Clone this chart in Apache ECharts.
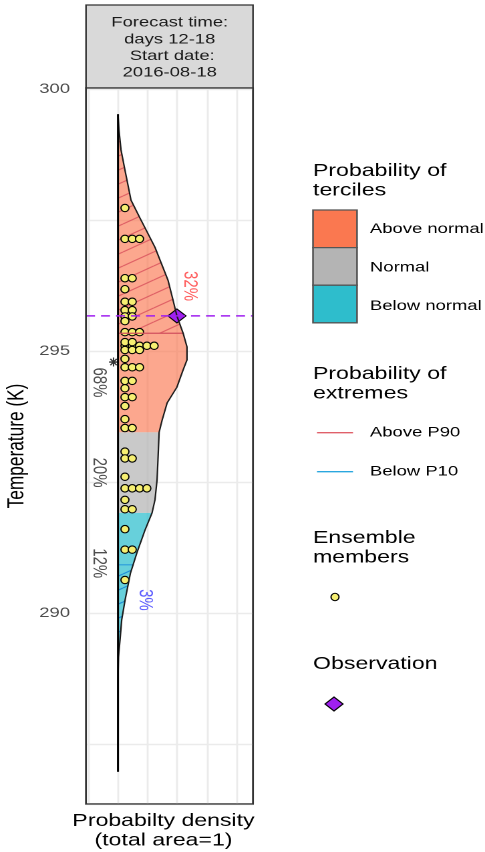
<!DOCTYPE html>
<html><head><meta charset="utf-8">
<script src="https://cdn.jsdelivr.net/npm/echarts@6/dist/echarts.min.js"></script>
<style>
html,body{margin:0;padding:0;background:#fff;overflow:hidden;width:485px;height:852px}
#wrap{width:485px;height:852px;overflow:hidden;position:relative}
#chart{position:absolute;left:0;top:0;width:363px;height:852px;transform:scaleX(1.33609);transform-origin:0 0}
</style></head>
<body><div id="wrap"><div id="chart"></div></div>
<script>
// ---------------- data ----------------
const densityTemps  = [299.52, 299.22, 298.84, 298.45, 298.07, 297.88, 297.50, 296.98, 296.35, 295.97, 295.67, 295.34, 295.08, 294.83, 294.64, 294.31, 294.01, 293.68, 293.45, 292.92, 292.54, 292.16, 291.91, 291.58, 291.15, 290.76, 290.25, 289.87, 289.48, 289.16, 288.72, 286.97];
const densityValues = [0, 0.0034, 0.0101, 0.0236, 0.0372, 0.0439, 0.0777, 0.125, 0.169, 0.186, 0.199, 0.220, 0.233, 0.233, 0.220, 0.199, 0.166, 0.149, 0.139, 0.135, 0.132, 0.125, 0.115, 0.091, 0.064, 0.042, 0.024, 0.0125, 0.0068, 0.0017, 0, 0];
const tercileBounds = [291.91, 293.45];          // lower / upper tercile limits (K)
const extremeBounds = [290.92, 295.34];          // P10 / P90 (K)
const tercileLabels = ['12%', '20%', '68%'];
const tercileLabelTemps = [290.95, 292.68, 294.40];
const extremeLabels = ['3%', '32%'];
const extremeLabelTemps = [290.25, 296.24];
const memberTemps  = [297.73, 297.14, 296.39, 296.18, 295.94, 295.78, 295.66, 295.57, 295.36, 295.10, 295.17, 295.02, 294.85, 294.69, 294.43, 294.29, 294.12, 293.95, 293.70, 293.53, 293.08, 292.95, 292.60, 292.38, 292.16, 291.98, 291.60, 291.21, 290.63];
const memberCounts = [1, 3, 2, 1, 2, 2, 2, 1, 3, 5, 2, 3, 1, 3, 2, 1, 2, 1, 1, 2, 1, 2, 1, 4, 1, 2, 1, 2, 1];
const observation = 295.67;
const ensembleMean = 294.79;
const yTickLabels = ['290', '295', '300'];
const headerLines = ['Forecast time:', 'days 12-18', ' Start date:', '2016-08-18'];
const legendTerciles = ['Above normal', 'Normal', 'Below normal'];
const legendExtremes = ['Above P90', 'Below P10'];

// ---------------- layout / style ----------------
const S = 485 / 363;                 // horizontal stretch of the reference
const ux = p => p / S;               // reference px -> chart px (x)
const X_MIN = -0.108, X_MAX = 0.456, Y_MIN = 286.355, Y_MAX = 300.02;
const FONT = '"Liberation Sans", Arial, Helvetica, sans-serif';
const labelPlacement = { tercileX: -0.064, extremeX: [0.091, 0.243], meanX: -0.015 };
const dotStep = 0.0247;
const tercileFill = ['rgba(45,190,205,0.72)', 'rgba(180,180,180,0.72)', 'rgba(250,118,78,0.64)'];
const legendFill = ['#FA7850', '#B4B4B4', '#2EBDCC'];
const extremeColors = ['#3333FF', '#FF3636'];

const densAsc = densityTemps.map((t, i) => ({ t, d: densityValues[i] })).sort((a, b) => a.t - b.t);
const tMin = densAsc[0].t, tMax = densAsc[densAsc.length - 1].t;
function densityAt(t) {
  if (t <= densAsc[0].t) return densAsc[0].d;
  for (let i = 1; i < densAsc.length; i++) {
    if (t <= densAsc[i].t) {
      const a = densAsc[i - 1], b = densAsc[i];
      return a.d + (b.d - a.d) * (t - a.t) / (b.t - a.t);
    }
  }
  return densAsc[densAsc.length - 1].d;
}
function regionShape(lo, hi, api) {
  const pts = [api.coord([0, lo]), api.coord([densityAt(lo), lo])];
  densAsc.forEach(p => { if (p.t > lo && p.t < hi) pts.push(api.coord([p.d, p.t])); });
  pts.push(api.coord([densityAt(hi), hi]), api.coord([0, hi]));
  return pts;
}
function hatchPattern(color) {
  const k = 2, W = 23 * k, H = 14 * k;
  const c = document.createElement('canvas'); c.width = W; c.height = H;
  const g = c.getContext('2d'); g.strokeStyle = color; g.lineWidth = 1.1 * k;
  for (let j = -1; j <= 1; j++) { g.beginPath(); g.moveTo(0, (j + 1) * H); g.lineTo(W, j * H); g.stroke(); }
  return { image: c, repeat: 'repeat', scaleX: 1 / k, scaleY: 1 / k };
}
const hatchPatterns = [hatchPattern('rgba(20,130,215,0.85)'), hatchPattern('rgba(200,40,70,0.55)')];

const dots = [];
memberTemps.forEach((t, i) => { for (let j = 0; j < memberCounts[i]; j++) dots.push([dotStep * (j + 0.95), t]); });

const asteriskPath = 'path://M8.5,0L11.5,0L11.5,20L8.5,20Z M0,8.5L20,8.5L20,11.5L0,11.5Z M1.94,4.06L4.06,1.94L18.06,15.94L15.94,18.06Z M15.94,1.94L18.06,4.06L4.06,18.06L1.94,15.94Z';

const titleFont = '17.3px ' + FONT, smallFont = '13.8px ' + FONT;
const graphic = [
  { type: 'rect', shape: { x: ux(86), y: 5, width: ux(167), height: 83 }, style: { fill: '#D9D9D9', stroke: '#333', lineWidth: 1.2 } },
  { type: 'rect', z: 100, shape: { x: ux(86), y: 88, width: ux(167), height: 716 }, style: { fill: null, stroke: '#333', lineWidth: 1.3 } },
  { type: 'text', x: ux(169.7), y: 14.4, style: { text: headerLines.join('\n'), font: smallFont, fill: '#1A1A1A', align: 'center', verticalAlign: 'top', lineHeight: 16.7 } },
  { type: 'text', x: ux(17), y: 446, rotation: Math.PI / 2, style: { text: 'Temperature (K)', font: titleFont, fill: '#000', align: 'center', verticalAlign: 'middle' } },
  { type: 'text', x: ux(163.5), y: 811.25, style: { text: 'Probabilty density\n(total area=1)', font: titleFont, fill: '#000', align: 'center', verticalAlign: 'top', lineHeight: 19.5 } },
  { type: 'text', x: ux(313), y: 161.3, style: { text: 'Probability of\nterciles', font: titleFont, fill: '#000', verticalAlign: 'top', lineHeight: 19.5 } },
  { type: 'text', x: ux(313), y: 364.3, style: { text: 'Probability of\nextremes', font: titleFont, fill: '#000', verticalAlign: 'top', lineHeight: 19.5 } },
  { type: 'text', x: ux(313), y: 528.5, style: { text: 'Ensemble\nmembers', font: titleFont, fill: '#000', verticalAlign: 'top', lineHeight: 19.5 } },
  { type: 'text', x: ux(313), y: 654.5, style: { text: 'Observation', font: titleFont, fill: '#000', verticalAlign: 'top', lineHeight: 19.5 } },
  { type: 'ellipse', shape: { cx: ux(335), cy: 597, rx: ux(4), ry: 3.7 }, style: { fill: '#F6EF72', stroke: '#000', lineWidth: 1 } },
  { type: 'polygon', shape: { points: [[ux(334), 697], [ux(343), 704], [ux(334), 711], [ux(325), 704]] }, style: { fill: '#A020F0', stroke: '#000', lineWidth: 1 } }
];
legendTerciles.forEach((name, i) => {
  graphic.push({ type: 'rect', shape: { x: ux(313), y: 210 + i * 37.6, width: ux(44), height: 37.6 }, style: { fill: legendFill[i], stroke: '#555', lineWidth: 1.3 } });
  graphic.push({ type: 'text', x: ux(370), y: 229 + i * 38.5, style: { text: name, font: smallFont, fill: '#000', verticalAlign: 'middle' } });
});
legendExtremes.forEach((name, i) => {
  const y = 432.7 + i * 39;
  graphic.push({ type: 'line', shape: { x1: ux(317), y1: y, x2: ux(353), y2: y }, style: { stroke: i === 0 ? '#E0606A' : '#2AA7DF', lineWidth: 1.3 } });
  graphic.push({ type: 'text', x: ux(370), y: y, style: { text: name, font: smallFont, fill: '#000', verticalAlign: 'middle' } });
});

const series = [
  { type: 'custom', coordinateSystem: 'cartesian2d', silent: true, encode: { x: 0, y: [1, 2] },
    data: [[0, tMin, tercileBounds[0], 0], [0, tercileBounds[0], tercileBounds[1], 1], [0, tercileBounds[1], tMax, 2]],
    renderItem: (params, api) => ({ type: 'polygon', shape: { points: regionShape(api.value(1), api.value(2), api) }, style: { fill: tercileFill[api.value(3)], stroke: null } }) },
  { type: 'custom', coordinateSystem: 'cartesian2d', silent: true, encode: { x: 0, y: [1, 2] },
    data: [[0, tMin, extremeBounds[0], 0], [0, extremeBounds[1], tMax, 1]],
    renderItem: (params, api) => ({ type: 'polygon', shape: { points: regionShape(api.value(1), api.value(2), api) }, style: { fill: hatchPatterns[api.value(3)], stroke: null } }) },
  { type: 'line', symbol: 'none', silent: true, lineStyle: { color: '#2A9BDB', width: 1.2 }, data: [[0, extremeBounds[0]], [densityAt(extremeBounds[0]), extremeBounds[0]]] },
  { type: 'line', symbol: 'none', silent: true, lineStyle: { color: '#D2505E', width: 1.3 }, data: [[0, extremeBounds[1]], [densityAt(extremeBounds[1]), extremeBounds[1]]] },
  { type: 'line', symbol: 'none', silent: true, lineStyle: { color: '#1A1A1A', width: 1.1 }, data: densAsc.map(p => [p.d, p.t]) },
  { type: 'line', symbol: 'none', silent: true, lineStyle: { color: '#000', width: 1.5 }, data: [[0, tMin], [0, tMax]] },
  { type: 'line', symbol: 'none', silent: true, lineStyle: { color: '#A020F0', width: 1.5, type: [ux(9), ux(6)] }, data: [[X_MIN, observation], [X_MAX, observation]] },
  { type: 'scatter', silent: true, symbol: 'circle', symbolSize: [ux(8), 7.4], itemStyle: { color: '#F6EF72', borderColor: '#000', borderWidth: 1, opacity: 1 }, data: dots },
  { type: 'scatter', silent: true, symbol: asteriskPath, symbolSize: [ux(9), 9], itemStyle: { color: '#000' }, data: [[labelPlacement.meanX, ensembleMean]] },
  { type: 'scatter', silent: true, symbol: 'diamond', symbolSize: [ux(18), 14], itemStyle: { color: '#A020F0', borderColor: '#000', borderWidth: 1, opacity: 1 }, data: [[densityAt(observation), observation]] },
  { type: 'scatter', silent: true, symbolSize: 0,
    label: { show: true, position: 'inside', rotate: -90, fontSize: 15, fontFamily: FONT, color: '#222' },
    data: tercileLabels.map((s, i) => ({ value: [labelPlacement.tercileX, tercileLabelTemps[i]], label: { formatter: s } })) },
  { type: 'scatter', silent: true, symbolSize: 0,
    label: { show: true, position: 'inside', rotate: -90, fontSize: 15, fontFamily: FONT },
    data: extremeLabels.map((s, i) => ({ value: [labelPlacement.extremeX[i], extremeLabelTemps[i]], label: { formatter: s, color: extremeColors[i] } })) }
];

const chart = echarts.init(document.getElementById('chart'), null, { renderer: 'canvas', devicePixelRatio: 2 });
chart.setOption({
  animation: false,
  backgroundColor: '#fff',
  grid: { left: ux(86), top: 88, width: ux(167), height: 716, show: true, borderColor: '#333', borderWidth: 1.2, backgroundColor: '#fff', containLabel: false, outerBoundsMode: 'none' },
  xAxis: { type: 'value', min: X_MIN, max: X_MAX, minInterval: 0.1, maxInterval: 0.1,
    axisLine: { show: false }, axisTick: { show: false }, axisLabel: { show: false },
    splitLine: { show: true, lineStyle: { color: '#EBEBEB', width: 1.4 } } },
  yAxis: { type: 'value', min: Y_MIN, max: Y_MAX, minInterval: 2.5, maxInterval: 2.5,
    axisLine: { show: false }, axisTick: { show: false },
    axisLabel: { show: true, margin: ux(86) - ux(70), color: '#4D4D4D', fontSize: 13.8, fontFamily: FONT,
      formatter: v => { const s = String(Math.round(v * 100) / 100); return yTickLabels.includes(s) ? s : ''; } },
    splitLine: { show: true, lineStyle: { color: '#EBEBEB', width: 1.4 } } },
  graphic: graphic,
  series: series
});
</script></body></html>
